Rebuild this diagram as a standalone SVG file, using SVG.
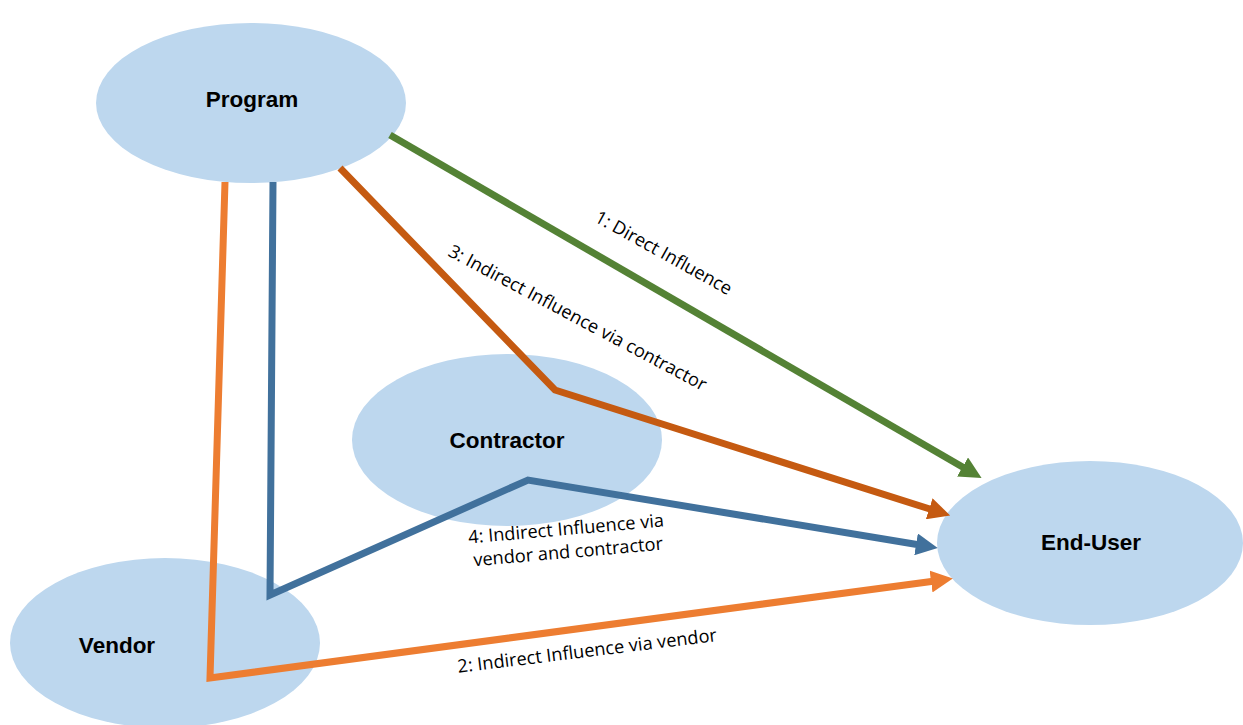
<svg xmlns="http://www.w3.org/2000/svg" width="1243" height="725" viewBox="0 0 1243 725">
<style>
.node{fill:#BDD7EE;stroke:none}
.nl{font-family:"Liberation Sans",Arial,sans-serif;font-weight:bold;font-size:22.5px;fill:#000;text-anchor:middle;dominant-baseline:central}
.el{font-family:"Open Sans","Liberation Sans",sans-serif;font-size:18.2px;fill:#000;text-anchor:middle;dominant-baseline:central}
.c{fill:none;stroke-width:7;stroke-linejoin:miter}
</style>
<defs>
<marker id="ag" markerUnits="userSpaceOnUse" markerWidth="22" markerHeight="22" viewBox="0 0 22 22" refX="4" refY="11" orient="auto"><path d="M0,0 L22,11 L0,22 z" fill="#548235"/></marker>
<marker id="ad" markerUnits="userSpaceOnUse" markerWidth="22" markerHeight="22" viewBox="0 0 22 22" refX="4" refY="11" orient="auto"><path d="M0,0 L22,11 L0,22 z" fill="#C55A11"/></marker>
<marker id="ab" markerUnits="userSpaceOnUse" markerWidth="22" markerHeight="22" viewBox="0 0 22 22" refX="4" refY="11" orient="auto"><path d="M0,0 L22,11 L0,22 z" fill="#41719C"/></marker>
<marker id="ao" markerUnits="userSpaceOnUse" markerWidth="22" markerHeight="22" viewBox="0 0 22 22" refX="4" refY="11" orient="auto"><path d="M0,0 L22,11 L0,22 z" fill="#ED7D31"/></marker>
</defs>
<rect width="1243" height="725" fill="#fff"/>
<g id="program"><ellipse class="node" cx="251" cy="103" rx="155" ry="80"/><text class="nl" x="252" y="99">Program</text></g>
<g id="contractor"><ellipse class="node" cx="507" cy="440" rx="155" ry="86"/><text class="nl" x="507" y="440">Contractor</text></g>
<g id="end-user"><ellipse class="node" cx="1090" cy="543" rx="153" ry="82"/><text class="nl" x="1091" y="542">End-User</text></g>
<g id="vendor"><ellipse class="node" cx="165" cy="643" rx="155" ry="85"/><text class="nl" x="117" y="645">Vendor</text></g>
<g id="connectors">
<path class="c" stroke="#548235" d="M390,135 L966,469" marker-end="url(#ag)"/>
<path class="c" stroke="#C55A11" d="M340,168 L555,390 L933,510" marker-end="url(#ad)"/>
<path class="c" stroke="#41719C" d="M273,182 L270,595 L528,480 L920,545" marker-end="url(#ab)"/>
<path class="c" stroke="#ED7D31" d="M225,182 L210,678 L935,581" marker-end="url(#ao)"/>
<text class="el" transform="translate(664,252) rotate(29)">1: Direct Influence</text>
<text class="el" transform="translate(578,317) rotate(28)">3: Indirect Influence via contractor</text>
<text class="el" transform="translate(566,528) rotate(-5)">4: Indirect Influence via</text>
<text class="el" transform="translate(568,551) rotate(-5)">vendor and contractor</text>
<text class="el" transform="translate(587,650) rotate(-7)">2: Indirect Influence via vendor</text>
</g>
</svg>
